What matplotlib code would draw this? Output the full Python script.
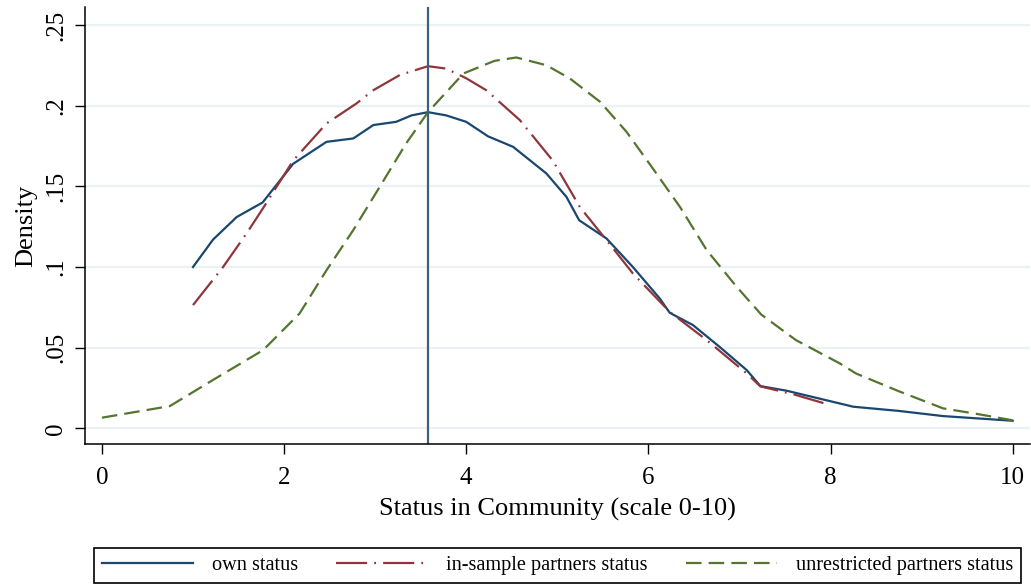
import matplotlib
matplotlib.use("Agg")
import matplotlib.pyplot as plt

plt.rcParams.update({"font.family": ["Liberation Serif", "DejaVu Serif"]})

NAVY = "#1a476f"; MAROON = "#90353b"; GREEN = "#55752f"
GRID = "#eaf2f3"; VLINE = "#3e5f7d"

# own status
own_x = [1.0, 1.22, 1.48, 1.764, 2.10, 2.466, 2.76, 2.98, 3.23, 3.4, 3.58, 3.78, 4.0,
         4.24, 4.515, 4.88, 5.10, 5.24, 5.54, 5.83, 6.125, 6.235, 6.49, 6.78, 7.08,
         7.23, 7.52, 7.8, 8.25, 8.75, 9.235, 10.0]
own_y = [0.100, 0.117, 0.131, 0.140, 0.164, 0.1776, 0.1797, 0.188, 0.190, 0.194, 0.196,
         0.194, 0.190, 0.181, 0.1745, 0.158, 0.1435, 0.129, 0.1177, 0.100, 0.0805,
         0.0716, 0.064, 0.0506, 0.0361, 0.0262, 0.0233, 0.0195, 0.0134, 0.0108,
         0.0076, 0.0047]

# in-sample partners status
ins_x = [1.0, 1.33, 1.59, 1.764, 2.10, 2.466, 2.795, 2.98, 3.27, 3.58, 3.78, 4.0, 4.22,
         4.59, 4.95, 5.25, 5.54, 5.83, 6.235, 6.64, 7.08, 7.23, 7.6, 7.955]
ins_y = [0.0764, 0.100, 0.121, 0.136, 0.166, 0.189, 0.2014, 0.2096, 0.219, 0.2245,
         0.223, 0.217, 0.2096, 0.191, 0.166, 0.137, 0.1167, 0.096, 0.0722, 0.0547,
         0.034, 0.026, 0.021, 0.0151]

# unrestricted partners status
unr_x = [0.0, 0.746, 1.22, 1.77, 2.17, 2.466, 2.76, 3.05, 3.34, 3.58, 3.97, 4.31, 4.55,
         4.88, 5.14, 5.47, 5.76, 6.05, 6.35, 6.64, 6.97, 7.24, 7.62, 8.10, 8.28, 8.75,
         9.235, 9.6, 10.0]
unr_y = [0.0066, 0.0138, 0.030, 0.0485, 0.0712, 0.098, 0.1229, 0.1497, 0.1766, 0.196,
         0.220, 0.2278, 0.2299, 0.2251, 0.2168, 0.2024, 0.1838, 0.161, 0.137, 0.1105,
         0.0877, 0.0705, 0.0547, 0.0403, 0.034, 0.023, 0.0124, 0.009, 0.0050]

mean_own = 3.58
xticks = [0, 2, 4, 6, 8, 10]
yticks = [0, 0.05, 0.1, 0.15, 0.2, 0.25]
ytick_labels = ["0", ".05", ".1", ".15", ".2", ".25"]

fig = plt.figure(figsize=(10.31, 5.84), dpi=100)
ax = fig.add_axes([0.0827, 0.2392, 0.9163, 0.7483])

for y in yticks:
    ax.axhline(y, color=GRID, lw=1.6, zorder=0)

l1, = ax.plot(own_x, own_y, color=NAVY, lw=1.6, label="own status")
l2, = ax.plot(ins_x, ins_y, color=MAROON, lw=1.6, dashes=(14, 3.2, 0.8, 3.2),
              label="in-sample partners status")
l3, = ax.plot(unr_x, unr_y, color=GREEN, lw=1.6, dashes=(7, 3.2),
              label="unrestricted partners status")
ax.axvline(mean_own, color=VLINE, lw=1.6)

ax.set_xlim(-0.183, 10.19)
ax.set_ylim(-0.0099, 0.261)
ax.set_xticks(xticks)
ax.set_yticks(yticks)
ax.set_yticklabels(ytick_labels, rotation=90, va="center")
ax.tick_params(axis="both", labelsize=18, length=7, width=1, direction="out")
ax.tick_params(axis="x", pad=9)
ax.tick_params(axis="y", pad=6)
for s in ["top", "right"]:
    ax.spines[s].set_visible(False)
for s in ["left", "bottom"]:
    ax.spines[s].set_linewidth(1.1)
ax.set_xlabel("Status in Community (scale 0-10)", fontsize=19, labelpad=7)
ax.set_ylabel("Density", fontsize=19, labelpad=6)

leg = fig.legend(handles=[l1, l2, l3], loc="lower left", ncol=3, mode="expand",
                 bbox_to_anchor=(0.0912, 0.0017, 0.899, 0.087), fontsize=14.6,
                 handlelength=4.5, handletextpad=0.9, fancybox=False,
                 borderaxespad=0, framealpha=1)
leg.get_frame().set_edgecolor("black")
leg.get_frame().set_linewidth(1.2)

fig.savefig("out.png", dpi=100)
